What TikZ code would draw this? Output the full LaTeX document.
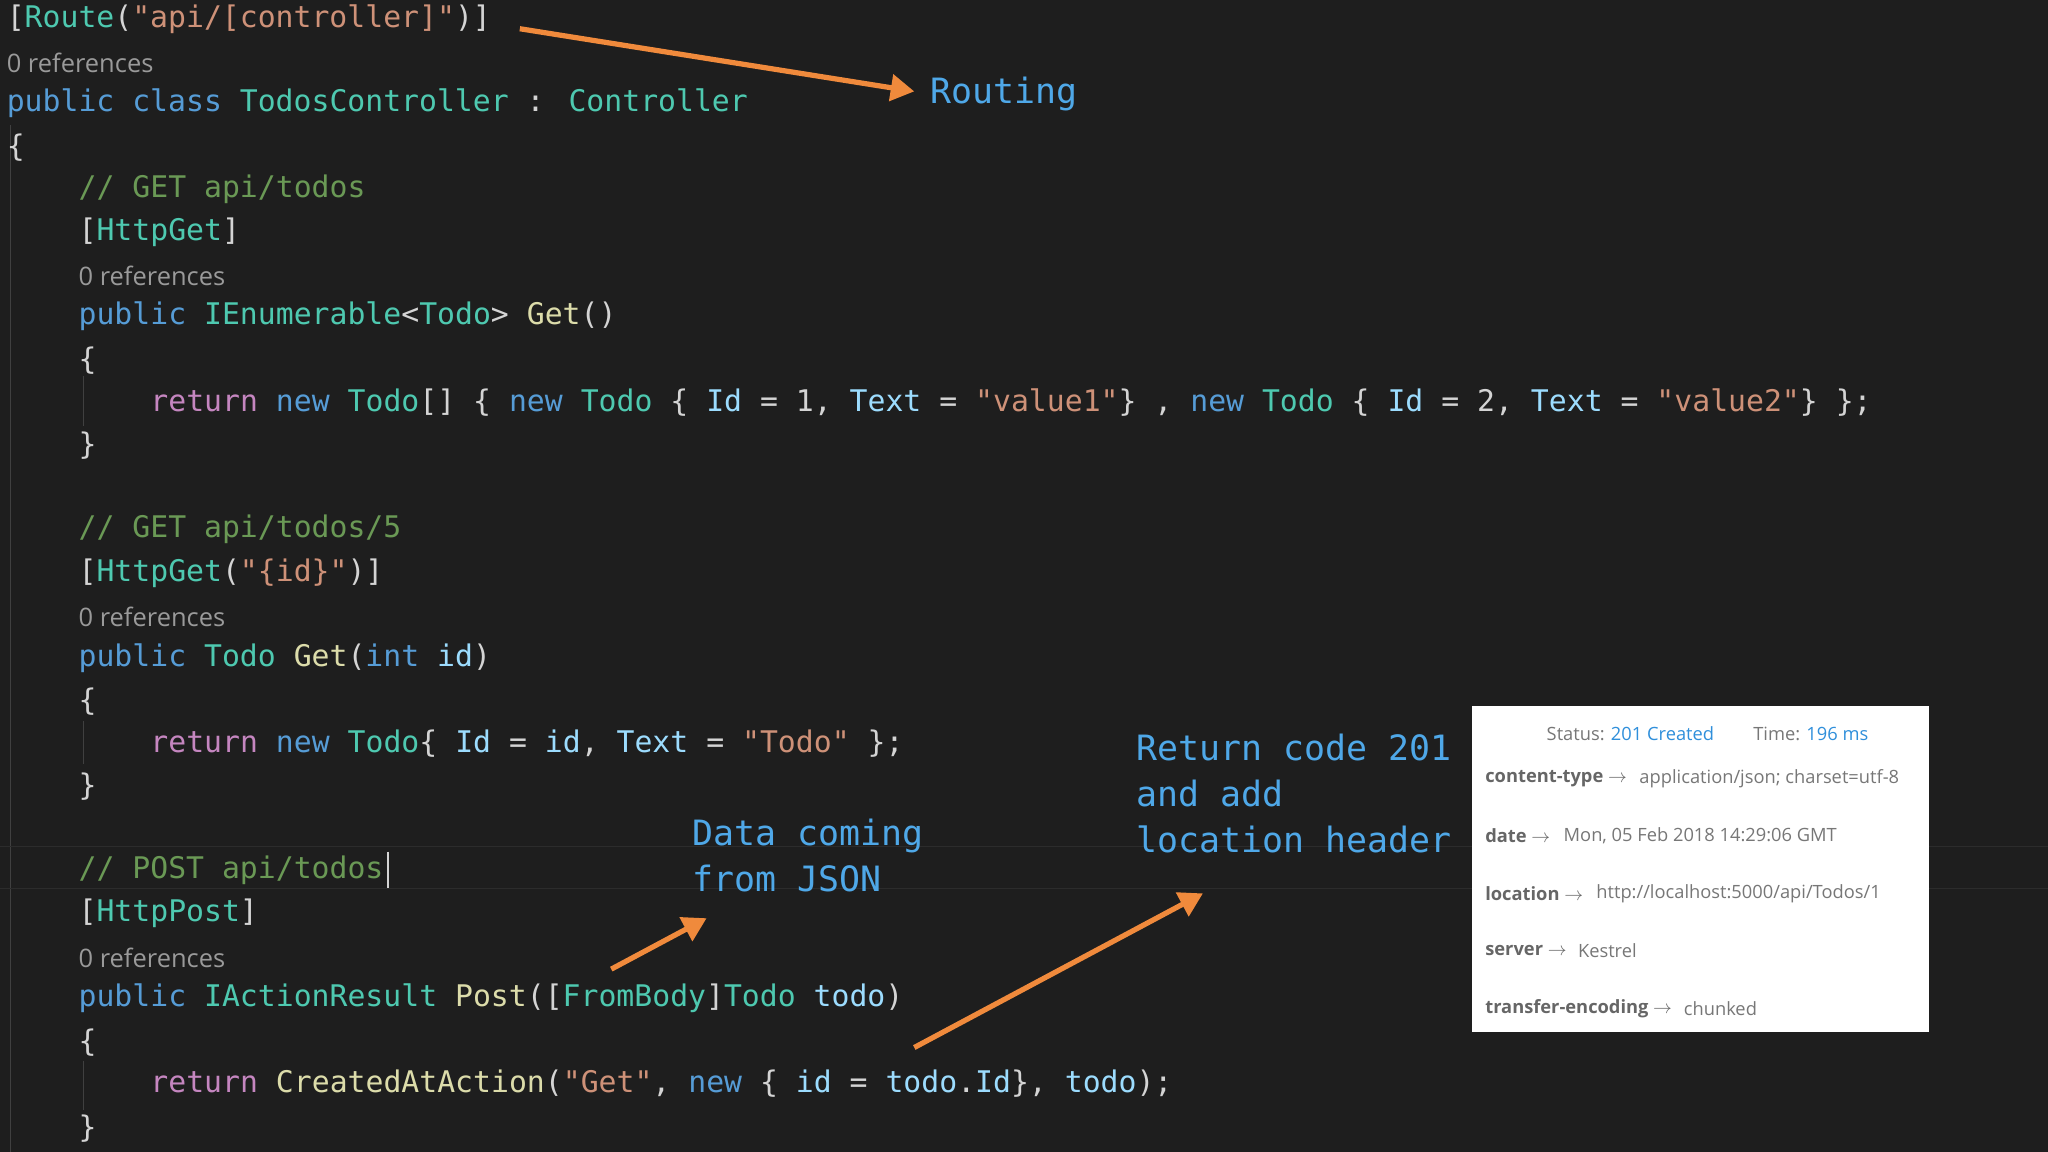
\documentclass[tikz,border=0pt]{standalone}
\usepackage{fontspec}
\setmainfont{DejaVu Sans}
\newfontfamily\codefont{DejaVu Sans Mono}
\newfontfamily\uifont{Open Sans}
\definecolor{bg}{HTML}{1E1E1E}
\definecolor{kw}{HTML}{569CD6}
\definecolor{ty}{HTML}{4EC9B0}
\definecolor{st}{HTML}{CE9178}
\definecolor{cm}{HTML}{6A9955}
\definecolor{fn}{HTML}{DCDCAA}
\definecolor{vr}{HTML}{9CDCFE}
\definecolor{tx}{HTML}{D4D4D4}
\definecolor{rt}{HTML}{C586C0}
\definecolor{refc}{HTML}{9A9A9A}
\definecolor{orng}{HTML}{F08A3C}
\definecolor{lbl}{HTML}{4FA8E8}
\definecolor{guide}{HTML}{404040}
\definecolor{hl}{HTML}{2C2C2C}
\definecolor{pk}{HTML}{666666}
\definecolor{pv}{HTML}{777777}
\definecolor{pb}{HTML}{2F8FDB}
\newcommand{\K}[1]{\textcolor{kw}{#1}}
\newcommand{\T}[1]{\textcolor{ty}{#1}}
\newcommand{\St}[1]{\textcolor{st}{#1}}
\newcommand{\F}[1]{\textcolor{fn}{#1}}
\newcommand{\V}[1]{\textcolor{vr}{#1}}
\newcommand{\R}[1]{\textcolor{rt}{#1}}
\tikzset{
  code/.style={anchor=west,inner sep=0pt,text=tx,font=\codefont\fontsize{22.8}{26}\selectfont},
  refs/.style={anchor=west,inner sep=0pt,text=refc,font=\uifont\fontsize{19.5}{22}\selectfont},
  lab/.style={anchor=west,inner sep=0pt,text=lbl,align=left,font=\codefont\fontsize{26.7}{35}\selectfont},
  arr/.style={draw=orng,line width=4pt,-{Triangle[length=18pt,width=20pt]}},
  pkey/.style={anchor=west,inner sep=0pt,text=pk,font=\uifont\bfseries\fontsize{14}{17}\selectfont},
  pval/.style={anchor=west,inner sep=0pt,text=pv,font=\uifont\fontsize{14}{17}\selectfont},
}
\usetikzlibrary{arrows.meta}
\begin{document}
\begin{tikzpicture}[x=1pt,y=-1pt]
\fill[bg] (0,0) rectangle (1568,882);
\useasboundingbox (0,0) rectangle (1568,882);
\draw[guide,line width=1pt] (8,96) -- (8,882);
\foreach \a/\b in {288/326,552/585,812/850} \draw[guide,line width=1pt] (64,\a) -- (64,\b);
\draw[hl,line width=1pt] (0,648) -- (1568,648) (0,680) -- (1568,680);
\node[code] (c1) at (5,15) {[\T{Route}(\St{"api/[controller]"})]};
\node[refs] (r1) at (5,48) {0 references};
\node[code] (c2) at (5,79) {\K{public} \K{class} \T{TodosController} : \T{Controller}};
\node[code] (c3) at (5,113) {\{};
\node[code] (c4) at (60,145) {\textcolor{cm}{// GET api/todos}};
\node[code] (c5) at (60,178) {[\T{HttpGet}]};
\node[refs] (r2) at (60,211) {0 references};
\node[code] (c6) at (60,242) {\K{public} \T{IEnumerable}<\T{Todo}> \F{Get}()};
\node[code] (c7) at (60,276) {\{};
\node[code] (c8) at (115,308) {\R{return} \K{new} \T{Todo}[] \{ \K{new} \T{Todo} \{ \V{Id} = 1, \V{Text} = \St{"value1"}\} , \K{new} \T{Todo} \{ \V{Id} = 2, \V{Text} = \St{"value2"}\} \};};
\node[code] (c9) at (60,341) {\}};
\node[code] (c10) at (60,405) {\textcolor{cm}{// GET api/todos/5}};
\node[code] (c11) at (60,439) {[\T{HttpGet}(\St{"\{id\}"})]};
\node[refs] (r3) at (60,472) {0 references};
\node[code] (c12) at (60,504) {\K{public} \T{Todo} \F{Get}(\K{int} \V{id})};
\node[code] (c13) at (60,537) {\{};
\node[code] (c14) at (115,569) {\R{return} \K{new} \T{Todo}\{ \V{Id} = \V{id}, \V{Text} = \St{"Todo"} \};};
\node[code] (c15) at (60,602) {\}};
\node[code] (c16) at (60,666) {\textcolor{cm}{// POST api/todos}};
\draw[tx,line width=1.5pt] (c16.east) ++(3,-14) coordinate (cur1) -- ++(0,28);
\node[code] (c17) at (60,699) {[\T{HttpPost}]};
\node[refs] (r4) at (60,733) {0 references};
\node[code] (c18) at (60,764) {\K{public} \T{IActionResult} \F{Post}([\T{FromBody}]\T{Todo} \V{todo})};
\node[code] (c19) at (60,798) {\{};
\node[code] (c20) at (115,830) {\R{return} \F{CreatedAtAction}(\St{"Get"}, \K{new} \{ \V{id} = \V{todo}.\V{Id}\}, \V{todo});};
\node[code] (c21) at (60,864) {\}};
\node[lab] (routing) at (712,72) {Routing};
\node[lab,anchor=north west] (data) at (530,627) {Data coming\\from JSON};
\node[lab,anchor=north west] (ret) at (870,562) {Return code 201\\and add\\location header};
\coordinate (a1s) at (398,22); \coordinate (a1e) at (700,70);
\draw[arr] (a1s) -- (a1e);
\coordinate (a2s) at (468,742); \coordinate (a2e) at (541,703);
\draw[arr] (a2s) -- (a2e);
\coordinate (a3s) at (700,802); \coordinate (a3e) at (921,684);
\draw[arr] (a3s) -- (a3e);
\node[fill=white,minimum width=350pt,minimum height=250pt,anchor=north west,inner sep=0pt] (panel) at (1127,540) {};
\node[pval] (s1) at (1184,562) {Status: \textcolor{pb}{201 Created}\hspace{30pt}Time: \textcolor{pb}{196 ms}};
\node[pkey] (k1) at (1137,596) {content-type {\mdseries$\rightarrow$}};
\node[pval] (v1) at (1255,596) {application/json; charset=utf-8};
\node[pkey] (k2) at (1137,640) {date {\mdseries$\rightarrow$}};
\node[pval] (v2) at (1197,640) {Mon, 05 Feb 2018 14:29:06 GMT};
\node[pkey] (k3) at (1137,684) {location {\mdseries$\rightarrow$}};
\node[pval] (v3) at (1222,684) {http://localhost:5000/api/Todos/1};
\node[pkey] (k4) at (1137,728) {server {\mdseries$\rightarrow$}};
\node[pval] (v4) at (1208,728) {Kestrel};
\node[pkey] (k5) at (1137,772) {transfer-encoding {\mdseries$\rightarrow$}};
\node[pval] (v5) at (1289,772) {chunked};
\end{tikzpicture}
\end{document}
